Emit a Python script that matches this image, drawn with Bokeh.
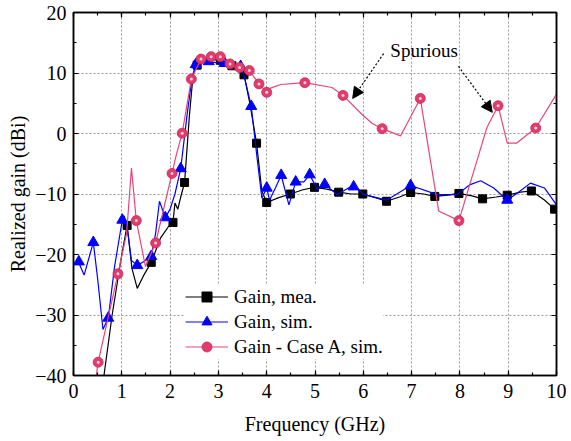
from bokeh.plotting import figure
from bokeh.models import (LinearAxis, Legend, LegendItem, Arrow, NormalHead,
                          Label, FixedTicker, Range1d)
from bokeh.embed import file_html
from bokeh.resources import INLINE

FONT = "Liberation Serif"

# Measured gain (dBi) vs frequency (GHz)
black_f = [0.58, 0.80, 1.00, 1.11, 1.21, 1.32, 1.45, 1.61, 1.80, 2.00, 2.06, 2.10, 2.16, 2.22,
           2.30, 2.40, 2.48, 2.56, 2.80, 3.04, 3.28, 3.53, 3.65, 3.79, 3.90, 4.00, 4.25, 4.49,
           4.75, 4.99, 5.25, 5.49, 5.75, 5.99, 6.25, 6.48, 6.75, 6.98, 7.25, 7.48, 7.75, 7.98,
           8.25, 8.47, 8.75, 8.98, 9.25, 9.48, 9.75, 9.96, 10.0]
black_g = [-43.0, -30.0, -20.0, -15.2, -22.3, -25.6, -23.5, -21.3, -17.3, -15.0, -14.7, -11.5,
           -12.5, -10.5, -8.1, 3.0, 10.0, 11.3, 12.3, 12.1, 11.2, 9.7, 5.0, -1.6, -9.5, -11.4,
           -10.6, -10.0, -9.3, -8.9, -9.2, -9.7, -10.0, -10.0, -10.6, -11.2, -10.5, -9.75,
           -10.0, -10.4, -10.2, -9.9, -10.3, -10.8, -10.5, -10.2, -9.7, -9.5, -11.0, -12.5, -12.7]
black_mf = [1.11, 1.61, 2.06, 2.30, 2.56, 3.04, 3.28, 3.53, 3.79, 4.00, 4.49, 4.99, 5.49, 5.99,
            6.48, 6.98, 7.48, 7.98, 8.47, 8.98, 9.48, 9.96]
black_mg = [-15.2, -21.3, -14.7, -8.1, 11.3, 12.1, 11.2, 9.7, -1.6, -11.4, -10.0, -8.9, -9.7,
            -10.0, -11.2, -9.75, -10.4, -9.9, -10.8, -10.2, -9.5, -12.5]

# Simulated gain
blue_f = [0.10, 0.22, 0.41, 0.50, 0.61, 0.72, 0.85, 1.01, 1.05, 1.12, 1.20, 1.32, 1.45, 1.61,
          1.70, 1.78, 1.90, 2.00, 2.10, 2.22, 2.35, 2.45, 2.53, 2.65, 2.80, 2.95, 3.13, 3.30,
          3.46, 3.55, 3.68, 3.80, 3.90, 4.00, 4.06, 4.18, 4.30, 4.46, 4.60, 4.77, 4.89, 5.05,
          5.20, 5.46, 5.80, 6.01, 6.49, 6.98, 7.53, 7.94, 8.20, 8.43, 8.70, 8.98, 9.20, 9.46,
          9.75, 10.0]
blue_g = [-21.2, -23.4, -18.0, -24.0, -32.4, -30.5, -22.0, -14.3, -13.6, -16.0, -21.0, -21.8,
          -21.2, -20.3, -16.5, -11.2, -13.9, -12.5, -10.0, -5.8, 3.0, 9.0, 11.4, 11.8, 11.9,
          11.7, 11.6, 11.3, 11.1, 9.0, 4.5, -4.0, -10.7, -9.0, -11.0, -9.0, -6.9, -11.8, -8.0,
          -8.0, -6.8, -9.3, -8.4, -10.1, -8.5, -10.1, -11.0, -8.6, -10.1, -10.1, -8.5, -7.8,
          -9.0, -11.0, -9.8, -8.2, -9.0, -11.8]
blue_mf = [0.11, 0.41, 0.72, 1.01, 1.32, 1.61, 1.90, 2.22, 2.53, 2.80, 3.13, 3.46, 3.68, 4.00,
           4.30, 4.60, 4.89, 5.20, 5.80, 6.98, 8.98]
blue_mg = [-21.2, -18.0, -30.5, -14.3, -21.8, -20.3, -13.9, -5.8, 11.4, 11.9, 11.6, 11.1, 4.5,
           -9.0, -6.9, -8.0, -6.8, -8.4, -8.8, -8.6, -11.0]

# Simulated gain, Case A
pink_f = [0.44, 0.51, 0.92, 1.10, 1.20, 1.30, 1.49, 1.70, 2.04, 2.13, 2.25, 2.44, 2.64, 2.85,
          3.04, 3.24, 3.44, 3.64, 3.84, 4.00, 4.08, 4.29, 4.79, 5.35, 5.58, 5.98, 6.18, 6.39,
          6.77, 7.18, 7.56, 7.98, 8.56, 8.79, 8.98, 9.17, 9.57, 10.0]
pink_g = [-42.0, -37.8, -23.2, -16.5, -5.7, -14.4, -22.0, -18.1, -6.6, -3.5, 0.05, 9.0, 12.3,
          12.7, 12.7, 11.5, 10.9, 10.4, 8.2, 6.8, 7.5, 8.1, 8.4, 7.6, 6.3, 3.1, 1.7, 0.8, -0.4,
          5.8, -12.8, -14.4, 1.0, 4.6, -1.6, -1.6, 0.9, 6.5]
pink_mf = [0.51, 0.92, 1.30, 1.70, 2.04, 2.25, 2.44, 2.64, 2.85, 3.04, 3.24, 3.44, 3.64, 3.84,
           4.00, 4.79, 5.58, 6.39, 7.18, 7.98, 8.79, 9.57]
pink_mg = [-37.8, -23.2, -14.4, -18.1, -6.6, 0.05, 9.0, 12.3, 12.7, 12.7, 11.5, 10.9, 10.4,
           8.2, 6.8, 8.4, 6.3, 0.8, 5.8, -14.4, 4.6, 0.9]

x_ticks = list(range(0, 11))
y_ticks = [-40, -30, -20, -10, 0, 10, 20]
x_minor = [i * 0.5 for i in range(21)]
y_minor = list(range(-40, 21, 5))

# "Spurious" callout: text anchor and two dotted arrows (x0, y0, x1, y1)
spur_text = (6.56, 13.7)
spur_arrows = [(6.42, 13.2, 5.78, 5.8), (7.97, 11.1, 8.67, 3.5)]

BLUE = "#0000ff"
PINK = "#e8457a"

p = figure(width=571, height=441, output_backend="svg", toolbar_location=None,
           x_range=Range1d(0, 10), y_range=Range1d(-40, 20),
           min_border_left=73, min_border_right=15, min_border_top=12, min_border_bottom=66,
           background_fill_color="white", border_fill_color="white")
p.outline_line_color = "black"
p.outline_line_width = 1.5

# dotted grid at interior major ticks
for g in (p.xgrid, p.ygrid):
    g.grid_line_color = "#9a9a9a"
    g.grid_line_dash = "2 2"
    g.grid_line_width = 1
p.xgrid.ticker = FixedTicker(ticks=x_ticks[1:-1])
p.ygrid.ticker = FixedTicker(ticks=y_ticks[1:-1])

p.xaxis.ticker = FixedTicker(ticks=x_ticks, minor_ticks=x_minor)
p.yaxis.ticker = FixedTicker(ticks=y_ticks, minor_ticks=y_minor)


def style_axis(ax):
    ax.axis_line_color = "black"
    ax.axis_line_width = 1.5
    ax.major_tick_in = 5
    ax.major_tick_out = 0
    ax.minor_tick_in = 3
    ax.minor_tick_out = 0
    ax.major_tick_line_width = 1.2
    ax.minor_tick_line_width = 1.2
    ax.major_tick_line_color = "black"
    ax.minor_tick_line_color = "black"
    ax.major_label_text_font = FONT
    ax.major_label_text_font_size = "20px"
    ax.major_label_text_color = "black"
    ax.axis_label_text_font = FONT
    ax.axis_label_text_font_size = "20px"
    ax.axis_label_text_font_style = "normal"
    ax.axis_label_text_color = "black"


style_axis(p.xaxis[0])
style_axis(p.yaxis[0])
p.xaxis.axis_label = "Frequency (GHz)"
p.yaxis.axis_label = "Realized gain (dBi)"
p.xaxis.major_label_standoff = 8
p.yaxis.major_label_standoff = 7
p.xaxis.axis_label_standoff = 12
p.yaxis.axis_label_standoff = 3

# tick marks along the top and right edges of the frame, without labels
top = LinearAxis(ticker=FixedTicker(ticks=x_ticks, minor_ticks=x_minor))
right = LinearAxis(ticker=FixedTicker(ticks=y_ticks, minor_ticks=y_minor))
for ax, ticks in ((top, x_ticks), (right, y_ticks)):
    style_axis(ax)
    ax.major_label_overrides = {t: "" for t in ticks}
    ax.major_label_standoff = 0
    ax.major_label_text_font_size = "1px"
p.add_layout(top, "above")
p.add_layout(right, "right")

# curves
bl = p.line(black_f, black_g, line_color="black", line_width=1.2)
bm = p.scatter(black_mf, black_mg, marker="square", size=8, fill_color="black", line_color="black")
ul = p.line(blue_f, blue_g, line_color=BLUE, line_width=1.2)
um = p.scatter(blue_mf, blue_mg, marker="triangle", size=11, fill_color=BLUE, line_color=BLUE)
pl = p.line(pink_f, pink_g, line_color=PINK, line_width=1.2)
pm = p.scatter(pink_mf, pink_mg, marker="circle", size=10, fill_color="#e23c6c",
               line_color="#c42c5a", line_width=0.8)
ph = p.scatter(pink_mf, pink_mg, marker="circle", size=3, fill_color="#fcd0dc",
               line_color=None)

legend = Legend(items=[
    LegendItem(label="Gain, mea.", renderers=[bl, bm]),
    LegendItem(label="Gain, sim.", renderers=[ul, um]),
    LegendItem(label="Gain - Case A, sim.", renderers=[pl, pm]),
], location=(112, 16))
legend.glyph_width = 43
legend.glyph_height = 25
legend.spacing = 0
legend.padding = 5
legend.margin = 0
legend.label_standoff = 6
legend.label_text_font = FONT
legend.label_text_font_size = "19px"
legend.label_text_color = "black"
legend.border_line_color = None
legend.background_fill_color = "white"
legend.background_fill_alpha = 1.0
p.add_layout(legend)

for x0, y0, x1, y1 in spur_arrows:
    p.add_layout(Arrow(end=NormalHead(size=11, fill_color="black", line_color="black"),
                       x_start=x0, y_start=y0, x_end=x1, y_end=y1,
                       line_color="black", line_width=1.2, line_dash="2 2"))

p.add_layout(Label(x=spur_text[0], y=spur_text[1], text="Spurious", text_font=FONT,
                   text_font_size="19px", text_baseline="middle", text_color="black"))

open("out.html", "w").write(file_html(p, INLINE))
